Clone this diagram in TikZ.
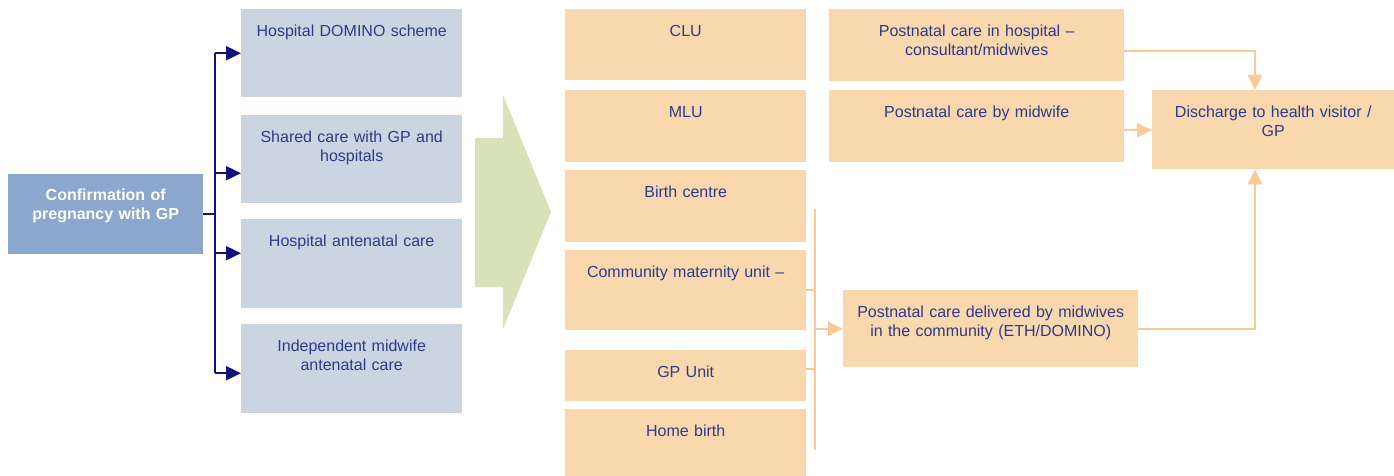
\documentclass[tikz,border=0pt]{standalone}
\usepackage{fontspec}
\setmainfont{Liberation Sans}
\usepackage{tikz}
\usetikzlibrary{arrows.meta}
\tikzset{>={Triangle[length=15pt,width=14pt]}}
\definecolor{b1}{HTML}{8BA7CD}
\definecolor{b2}{HTML}{CBD5E2}
\definecolor{n1}{HTML}{10107E}
\definecolor{t1}{HTML}{2E3A8A}
\definecolor{o1}{HTML}{F9D8AE}
\definecolor{o2}{HTML}{FDC894}
\definecolor{g1}{HTML}{D9E1B8}
\tikzstyle{box}=[rectangle,anchor=north west,inner xsep=0pt,inner ysep=0pt,
  align=center,text=t1,font=\fontsize{16}{19}\selectfont,text height=27.5pt]
\tikzstyle{blue box}=[box,fill=b2,text width=221pt]
\tikzstyle{unit box}=[box,fill=o1,text width=241pt]
\tikzstyle{post box}=[box,fill=o1,text width=295pt]
\tikzstyle{navy line}=[n1,line width=2pt]
\tikzstyle{orange line}=[o2,line width=2.4pt]

\begin{document}
\begin{tikzpicture}[x=1pt,y=-1pt]
  \useasboundingbox (0,0) rectangle (1394,476);
  \node[box,fill=b1,text=white,font=\fontsize{16}{19}\selectfont\bfseries,
        text width=195pt,text height=26.5pt,text depth=53.5pt]
        (conf) at (8,174) {Confirmation of\\pregnancy with GP};
  \node[blue box,text depth=60.5pt] (dom) at (241,9) {Hospital DOMINO scheme};
  \node[blue box,text depth=60.5pt] (shared) at (241,115) {Shared care with GP and\\hospitals};
  \node[blue box,text depth=61.5pt] (hant) at (241,219) {Hospital antenatal care};
  \node[blue box,text depth=61.5pt] (indep) at (241,324) {Independent midwife\\antenatal care};
  \fill[g1] (475,138) -- (503,138) -- (503,95) -- (551,212)
            -- (503,329) -- (503,287) -- (475,287) -- cycle;
  \node[unit box,text depth=43.5pt] (clu) at (565,9) {CLU};
  \node[unit box,text depth=44.5pt] (mlu) at (565,90) {MLU};
  \node[unit box,text depth=44.5pt] (birth) at (565,170) {Birth centre};
  \node[unit box,text depth=52.5pt] (cmu) at (565,250) {Community maternity unit --};
  \node[unit box,text depth=23.5pt] (gpu) at (565,350) {GP Unit};
  \node[unit box,text depth=39.5pt] (home) at (565,409) {Home birth};
  \node[post box,text depth=44.5pt] (phosp) at (829,9) {Postnatal care in hospital --\\consultant/midwives};
  \node[post box,text depth=44.5pt] (pmid) at (829,90) {Postnatal care by midwife};
  \node[post box,text depth=49.5pt] (pcom) at (843,290) {Postnatal care delivered by midwives\\in the community (ETH/DOMINO)};
  \node[box,fill=o1,text width=242pt,text depth=51.5pt] (dis) at (1152,90) {Discharge to health visitor /\\GP};
  \coordinate (nbus) at (215,214);
  \coordinate (a2) at ([yshift=-14pt]shared.west);
  \coordinate (a3) at ([yshift=10.5pt]hant.west);
  \coordinate (a4) at ([yshift=-4.5pt]indep.west);
  \draw[navy line] (conf.east) -- (conf.east -| nbus);
  \draw[navy line] (nbus |- dom.west) -- (nbus |- a4);
  \draw[navy line,->] (nbus |- dom.west) -- (dom.west);
  \draw[navy line,->] (nbus |- a2) -- (a2);
  \draw[navy line,->] (nbus |- a3) -- (a3);
  \draw[navy line,->] (nbus |- a4) -- (a4);
  \coordinate (obus) at (815,209);
  \coordinate (oend) at (815,450);
  \coordinate (g1) at ([yshift=6.5pt]gpu.east);
  \draw[orange line] (obus) -- (oend);
  \draw[orange line] (cmu.east) -- (cmu.east -| obus);
  \draw[orange line] (g1) -- (g1 -| obus);
  \draw[orange line,->] (obus |- pcom.west) -- (pcom.west);
  \coordinate (dcol) at (1255,0);
  \coordinate (h1) at ([yshift=-6pt]phosp.east);
  \coordinate (m1) at ([yshift=-4pt]pmid.east);
  \draw[orange line,->] (h1) -| (dcol |- dis.north);
  \draw[orange line,->] (m1) -- (m1 -| dis.west);
  \draw[orange line,->] (pcom.east) -| (dcol |- dis.south);
\end{tikzpicture}
\end{document}
